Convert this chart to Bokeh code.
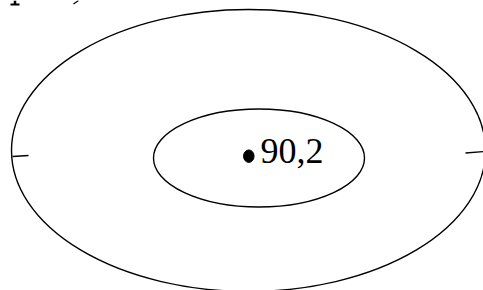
from bokeh.plotting import figure
from bokeh.models import Range1d
from bokeh.core.properties import value
from bokeh.embed import file_html
from bokeh.resources import INLINE

# Diagram data (pixel-like coordinates, y downwards)
ellipse_x = [248, 258.5]
ellipse_y = [150, 157.5]
ellipse_w = [474, 211]
ellipse_h = [282, 98]

point_x = [248.3]
point_y = [155.7]
point_label = ["90,2"]

tick_x0 = [12, 465]
tick_y0 = [156, 152.5]
tick_x1 = [28, 484]
tick_y1 = [155, 151]

# cut-off fragments at the top edge
frag_x0 = [10, 14.5, 73]
frag_y0 = [4, 0, 3.5]
frag_x1 = [19, 14.5, 78]
frag_y1 = [4, 4, 0]
frag_w = [2.0, 2.5, 1.2]

p = figure(width=483, height=290, output_backend="svg", toolbar_location=None,
           x_range=Range1d(0, 483), y_range=Range1d(290, 0),
           min_border=0, outline_line_color=None)
p.axis.visible = False
p.grid.visible = False
p.background_fill_color = "white"
p.border_fill_color = "white"

p.ellipse(x=ellipse_x, y=ellipse_y, width=ellipse_w, height=ellipse_h,
          fill_color=None, line_color="black", line_width=1.4)
p.segment(x0=tick_x0, y0=tick_y0, x1=tick_x1, y1=tick_y1,
          line_color="black", line_width=1.4)
p.ellipse(x=point_x, y=point_y, width=10.5, height=12.5,
          fill_color="black", line_color="black")
p.text(x=[260], y=[150], text=point_label, text_font=value("Liberation Serif"),
       text_font_size="36px", text_color="black",
       text_align="left", text_baseline="alphabetic")
p.segment(x0=frag_x0, y0=frag_y0, x1=frag_x1, y1=frag_y1,
          line_color="black", line_width=frag_w)

html = file_html(p, INLINE)
html = html.replace("<head>", "<head><style>html,body{margin:0;padding:0;overflow:hidden;}</style>", 1)
open("out.html", "w").write(html)
